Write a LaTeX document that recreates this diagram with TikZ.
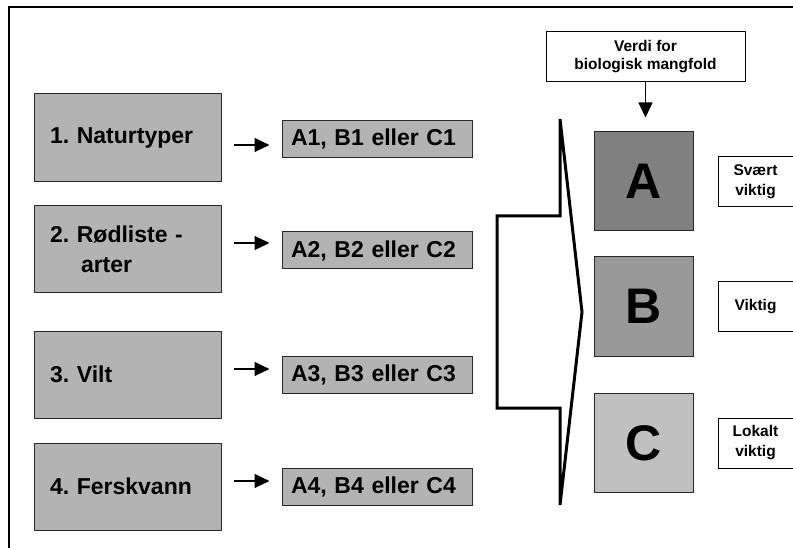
\documentclass[tikz,border=0pt]{standalone}
\usepackage{fontspec}
\setmainfont{Liberation Sans}
\usetikzlibrary{arrows.meta}
\definecolor{boxgray}{RGB}{179,179,179}
\definecolor{agray}{RGB}{128,128,128}
\definecolor{bgray}{RGB}{153,153,153}
\definecolor{cgray}{RGB}{192,192,192}
\definecolor{edge}{RGB}{40,40,40}
\frenchspacing
\begin{document}
\begin{tikzpicture}[x=1pt,y=-1pt,
  catbox/.style={draw=edge, line width=1pt, fill=boxgray, minimum width=187pt, minimum height=88pt,
    text width=155pt, inner xsep=16pt, inner ysep=0pt, align=left,
    font=\bfseries\fontsize{23}{30}\selectfont},
  resbox/.style={draw=edge, line width=1pt, fill=boxgray, minimum width=190pt, minimum height=37pt,
    text width=172pt, inner xsep=9pt, inner ysep=0pt, align=left,
    font=\bfseries\fontsize{23}{28}\selectfont},
  letbox/.style={draw=edge, line width=1pt, minimum width=99pt, minimum height=99pt, inner sep=0pt,
    font=\bfseries\fontsize{50}{50}\selectfont},
  labbox/.style={draw=black, line width=1pt, fill=white, minimum width=75pt, minimum height=50pt,
    inner sep=0pt, align=center, font=\bfseries\fontsize{15.5}{20}\selectfont},
  conn/.style={line width=1.2pt, -{Triangle[length=15pt,width=14pt]}, shorten <=12pt, shorten >=12pt}
]
\useasboundingbox (0,0) rectangle (793,548);
% frame
\draw[line width=1.2pt] (9,548) -- (9,7) -- (793,7);

% left boxes
\node[catbox] (l1) at (127.5,138) {1. Naturtyper};
\node[catbox, minimum height=87pt] (l2) at (127.5,249.5) {2. Rødliste -\\\hspace*{31pt}arter};
\node[catbox, minimum height=87pt] (l3) at (127.5,374.5) {3. Vilt};
\node[catbox, minimum height=87pt] (l4) at (127.5,486.5) {4. Ferskvann};

% result boxes
\node[resbox] (r1) at (377,139) {A1, B1 eller C1};
\node[resbox] (r2) at (377,250.5) {A2, B2 eller C2};
\node[resbox] (r3) at (377,375) {A3, B3 eller C3};
\node[resbox] (r4) at (377,487) {A4, B4 eller C4};

% arrows
\draw[conn] ([yshift=-7pt]l1.east) -- ([yshift=-7pt]l1.east -| r1.west);
\draw[conn] ([yshift=6.5pt]l2.east) -- ([yshift=6.5pt]l2.east -| r2.west);
\draw[conn] ([yshift=5.5pt]l3.east) -- ([yshift=5.5pt]l3.east -| r3.west);
\draw[conn] ([yshift=5.5pt]l4.east) -- ([yshift=5.5pt]l4.east -| r4.west);

% bracket
\draw[line width=3pt, line join=miter] (560,119) -- (560,216) -- (497,216) -- (497,408) -- (560,408) -- (560,505) -- (582,312) -- cycle;

% letter boxes
\node[letbox, fill=agray] (A) at (643.5,181.5) {A};
\node[letbox, fill=bgray] (B) at (643.5,306.5) {B};
\node[letbox, fill=cgray] (C) at (643.5,443) {C};

% label boxes
\node[labbox] (s1) at (755.5,182) {Svært\\viktig};
\node[labbox, minimum height=49pt] (s2) at (755.5,306.5) {Viktig};
\node[labbox] (s3) at (755.5,443) {Lokalt\\viktig};

% value box
\node[labbox, minimum width=199pt, font=\bfseries\fontsize{15.5}{18}\selectfont] (v) at (645.5,57) {Verdi for\\biologisk mangfold};
\draw[line width=1.2pt, -{Triangle[length=15pt,width=14pt]}, shorten >=14pt] (v.south) -- (v.south |- A.north);
\end{tikzpicture}
\end{document}
